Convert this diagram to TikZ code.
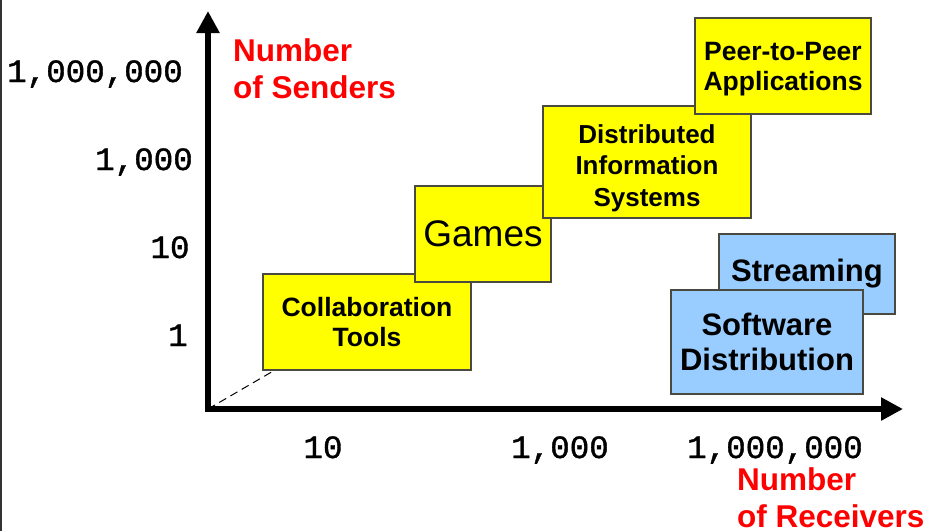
\documentclass[tikz,border=0pt]{standalone}
\usepackage{fontspec}
\setmainfont{Liberation Sans}
\newfontfamily\axisfont[FakeBold=1.2]{Liberation Mono}
\usetikzlibrary{arrows.meta}
\definecolor{boxyellow}{HTML}{FFFF00}
\definecolor{boxblue}{HTML}{99CCFF}
\definecolor{boxedge}{HTML}{4A4A40}
\definecolor{labelred}{HTML}{FF0000}
\definecolor{frameedge}{HTML}{333333}
\begin{document}
\begin{tikzpicture}[x=1pt,y=-1pt,
  box/.style={draw=boxedge, line width=1.3pt, inner sep=0pt, align=center, text=black},
  yellowbox/.style={box, fill=boxyellow},
  bluebox/.style={box, fill=boxblue},
  ticklabel/.style={font=\axisfont\fontsize{32.5}{36}\selectfont, inner sep=0pt, anchor=base},
  axislabel/.style={font=\fontsize{31.5}{37.5}\selectfont\bfseries, text=labelred, align=left, inner sep=0pt, anchor=north west},
  axisline/.style={line width=6pt, {Triangle[length=22pt,width=22pt]}-{Triangle[length=22pt,width=22pt]}}]
\useasboundingbox (0,0) rectangle (929,531);

% frame edge on the left
\draw[frameedge, line width=1.5pt] (0.75,0) -- (0.75,531);

% axes
\coordinate (origin) at (208,409);
\coordinate (ytip) at (208,11);
\coordinate (xtip) at (903,409);
\coordinate (dashend) at (275,370);
\draw[line width=1pt, dash pattern=on 8pt off 5pt] (origin) -- (dashend);
\draw[axisline] (ytip) -- (origin) -- (xtip);

% sender scale
\node[ticklabel] (s6) at (95,82) {1,000,000};
\node[ticklabel] (s3) at (144,170) {1,000};
\node[ticklabel] (s1) at (170,258) {10};
\node[ticklabel] (s0) at (178,346) {1};

% receiver scale
\node[ticklabel] (r1) at (323,458) {10};
\node[ticklabel] (r3) at (560,458) {1,000};
\node[ticklabel] (r6) at (775,458) {1,000,000};

% axis titles
\node[axislabel] (senders) at (233,38) {Number\\of Senders};
\node[axislabel] (receivers) at (737,467) {Number\\of Receivers};

% application classes
\node[yellowbox, minimum width=208pt, minimum height=96pt, font=\fontsize{26.5}{30}\selectfont\bfseries]
  (collab) at (367,322) {Collaboration\\Tools};
\node[yellowbox, minimum width=136pt, minimum height=96pt, font=\fontsize{37}{44}\selectfont]
  (games) at (483,234) {Games};
\node[yellowbox, minimum width=208pt, minimum height=112pt, font=\fontsize{26}{31.5}\selectfont\bfseries]
  (dis) at (647,162) {\rule{0pt}{31pt}Distributed\\Information\\Systems};
\node[yellowbox, minimum width=176pt, minimum height=96pt, font=\fontsize{26.5}{30}\selectfont\bfseries]
  (peer) at (783,66) {\rule{0pt}{25pt}Peer-to-Peer\\Applications};
\node[bluebox, minimum width=176pt, minimum height=80pt, font=\fontsize{31}{36}\selectfont\bfseries]
  (stream) at (807,274) {Streaming};
\node[bluebox, minimum width=192pt, minimum height=104pt, font=\fontsize{31}{35}\selectfont\bfseries]
  (soft) at (767,342) {Software\\Distribution};
\end{tikzpicture}
\end{document}
